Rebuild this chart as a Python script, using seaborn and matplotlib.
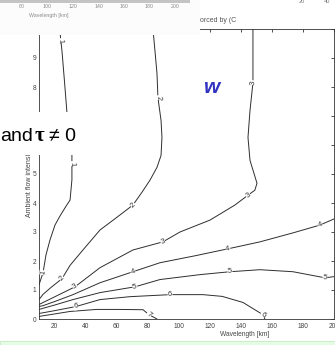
import numpy as np
import pandas as pd
import seaborn as sns
import matplotlib.pyplot as plt
from matplotlib.patches import Rectangle

# contour lines (wavelength [km], ambient flow)
levels = [1, 2, 3, 4, 5, 6, 7]
c1_x = [23.3, 24.8, 26.4, 28.0, 29.6, 31.2, 31.2, 30.0, 27.4, 23.5, 20.3, 17.1, 14.5, 12.6, 10.0]
c1_y = [10.0, 9.24, 8.2, 7.12, 6.4, 5.64, 4.8, 4.1, 3.89, 3.55, 3.24, 2.73, 2.21, 1.6, 1.18]
c2_x = [83.4, 84.7, 86.0, 86.6, 88.6, 89.2, 88.6, 86.0, 81.5, 76.3, 70.5, 60.0, 49.3, 38.3, 30.0, 24.8, 18.0, 12.6, 10.0]
c2_y = [10.0, 9.24, 8.46, 7.63, 6.85, 6.26, 5.64, 5.23, 4.79, 4.37, 3.93, 3.5, 3.07, 2.38, 1.85, 1.39, 1.1, 0.85, 0.67]
c3_x = [147.8, 147.8, 147.8, 145.9, 144.6, 145.9, 150.4, 149.0, 144.6, 136.2, 120.1, 100.8, 89.8, 70.5, 49.3, 33.2, 20.3, 10.0]
c3_y = [10.0, 8.9, 8.15, 7.19, 6.26, 5.47, 4.68, 4.44, 4.27, 3.93, 3.41, 3.0, 2.66, 2.38, 1.77, 1.11, 0.77, 0.5]
c4_x = [200, 191, 173.6, 152.3, 131.7, 110.5, 87.9, 70.5, 49.3, 31.9, 20.0, 12.6, 10.0]
c4_y = [3.45, 3.24, 2.97, 2.66, 2.42, 2.18, 1.94, 1.63, 1.25, 0.84, 0.6, 0.46, 0.43]
c5_x = [200, 194.2, 173.6, 152.3, 133.0, 113.7, 87.9, 71.8, 49.3, 31.9, 20.0, 10.0]
c5_y = [1.46, 1.42, 1.63, 1.7, 1.63, 1.53, 1.36, 1.11, 0.91, 0.67, 0.48, 0.33]
c6_x = [155.5, 154.2, 141.4, 128.0, 115.6, 94.4, 68.6, 49.3, 33.8, 20.3, 10.0]
c6_y = [0.0, 0.15, 0.57, 0.78, 0.84, 0.84, 0.77, 0.67, 0.43, 0.29, 0.19]
c7_x = [86.0, 80.8, 77.0, 62.0, 47.0, 30.0, 18.4, 10.0]
c7_y = [0.0, 0.15, 0.32, 0.33, 0.33, 0.26, 0.16, 0.09]
cont_x = [c1_x, c2_x, c3_x, c4_x, c5_x, c6_x, c7_x]
cont_y = [c1_y, c2_y, c3_y, c4_y, c5_y, c6_y, c7_y]

# inline contour labels (level, wavelength, flow)
lab_level = [1, 1, 1, 2, 2, 2, 3, 3, 3, 3, 4, 4, 4, 5, 5, 5, 6, 6, 6, 7]
lab_x = [23.8, 31.2, 12.6, 86.6, 70.5, 24.8, 147.8, 144.6, 89.8, 33.2, 191, 131.7, 70.5, 194.2, 133.0, 71.8, 154.2, 94.4, 33.8, 80.8]
lab_y = [9.6, 5.36, 1.6, 7.63, 3.93, 1.39, 8.15, 4.27, 2.66, 1.11, 3.24, 2.42, 1.63, 1.42, 1.63, 1.11, 0.15, 0.84, 0.43, 0.15]

x_ticks = [20, 40, 60, 80, 100, 120, 140, 160, 180, 200]
y_ticks = [0, 1, 2, 3, 4, 5, 6, 7, 8, 9, 10]
strip_ticks = ['60', '80', '100', '120', '140', '160', '180', '200']

sns.set_style('white')
plt.rcParams['font.family'] = ['Liberation Sans', 'DejaVu Sans']
narrow = ['Liberation Sans Narrow', 'Liberation Sans', 'DejaVu Sans']

W, H = 335, 345
fig = plt.figure(figsize=(W / 100, H / 100), dpi=100)
ax = fig.add_axes([39 / W, 26 / H, 295 / W, 290 / H])

rows = []
for lev, xs, ys in zip(levels, cont_x, cont_y):
    for i, (x, y) in enumerate(zip(xs, ys)):
        rows.append({'wavelength': x, 'flow': y, 'level': lev, 'order': i})
df = pd.DataFrame(rows)

sns.lineplot(data=df, x='wavelength', y='flow', units='level', estimator=None,
             sort=False, color='#2e2e2e', lw=0.7, ax=ax, legend=False)

ax.set_xlim(10, 200)
ax.set_ylim(0, 10)
ax.set_xticks(x_ticks)
ax.set_yticks(y_ticks)
ax.tick_params(direction='in', top=True, right=True, length=2.5, width=0.6,
               labelsize=4.8, labelcolor='#444444', color='#333333')
ax.tick_params(axis='y', pad=2)
ax.tick_params(axis='x', pad=3)
for lbl in ax.get_xticklabels() + ax.get_yticklabels():
    lbl.set_family(narrow)
for s in ax.spines.values():
    s.set_linewidth(0.6)
    s.set_color('#333333')

ax.set_xlabel('Wavelength [km]', fontsize=4.8, color='#444444', family=narrow)
ax.xaxis.set_label_coords(0.698, -0.04)
ax.set_ylabel('Ambient flow intensity', fontsize=5, color='#444444', family=narrow)
ax.yaxis.set_label_coords(-0.02, 0.469)

# contour labels rotated along the line
for lev, lx, ly in zip(lab_level, lab_x, lab_y):
    pts = ax.transData.transform(np.column_stack([cont_x[lev - 1], cont_y[lev - 1]]))
    p = ax.transData.transform((lx, ly))
    i = int(np.argmin(np.hypot(pts[:, 0] - p[0], pts[:, 1] - p[1])))
    a = pts[max(i - 1, 0)]
    b = pts[min(i + 1, len(pts) - 1)]
    ang = np.degrees(np.arctan2(b[1] - a[1], b[0] - a[0]))
    if ang > 90:
        ang -= 180
    if ang < -90:
        ang += 180
    ax.text(lx, ly, str(lev), fontsize=5.5, color='#333333', rotation=ang,
            rotation_mode='anchor', ha='center', va='center', zorder=4, family=narrow,
            bbox=dict(fc='white', ec='none', pad=0.2))


def fx(px):
    return px / W


def fy(py):
    return 1 - py / H


# pieces of the slide laid over the chart
fig.add_artist(Rectangle((0, fy(35)), fx(200), 35 / H, transform=fig.transFigure,
                         fc='#fcfcfc', ec='none', zorder=5))
fig.add_artist(Rectangle((0, fy(2.5)), fx(190), 2.5 / H, transform=fig.transFigure,
                         fc='#c4c4c4', ec='none', zorder=6))
for k, t in enumerate(strip_ticks):
    fig.text(fx(-3.5 + 25.5 * k), fy(7), t, fontsize=3.8, color='#8a8a8a', family=narrow,
             ha='center', va='center', zorder=7)
fig.text(fx(49), fy(16), 'Wavelength [km]', fontsize=3.8, color='#8a8a8a', family=narrow,
         ha='center', va='center', zorder=7)
fig.text(fx(302), fy(1.5), '20', fontsize=4, color='#777777', ha='center', va='center', family=narrow)
fig.text(fx(327), fy(1.5), '40', fontsize=4, color='#777777', ha='center', va='center', family=narrow)
fig.text(fx(200), fy(20), 'orced by (C', fontsize=5, color='#555555', ha='left', va='center', family=narrow)

fig.add_artist(Rectangle((0, fy(155)), fx(100), 43 / H, transform=fig.transFigure,
                         fc='white', ec='none', zorder=5))
fig.text(fx(0), fy(141), 'and', fontsize=14, color='black', ha='left', va='baseline', zorder=7)
fig.text(fx(35), fy(141), 'τ', fontsize=15, fontweight='bold', color='black',
         family=['Liberation Serif', 'DejaVu Serif'], ha='left', va='baseline', zorder=7)
fig.text(fx(49), fy(141), '≠ 0', fontsize=14, color='black', ha='left', va='baseline', zorder=7)

fig.text(fx(204), fy(93), 'w', fontsize=15, fontweight='bold', style='italic',
         color='#3232c0', ha='left', va='baseline', zorder=7)

fig.add_artist(Rectangle((0, 0), 1, 4 / H, transform=fig.transFigure,
                         fc='#e4fbe4', ec='#c4ecc4', lw=0.6, zorder=5))

fig.savefig('out.png', dpi=100)
plt.close()
